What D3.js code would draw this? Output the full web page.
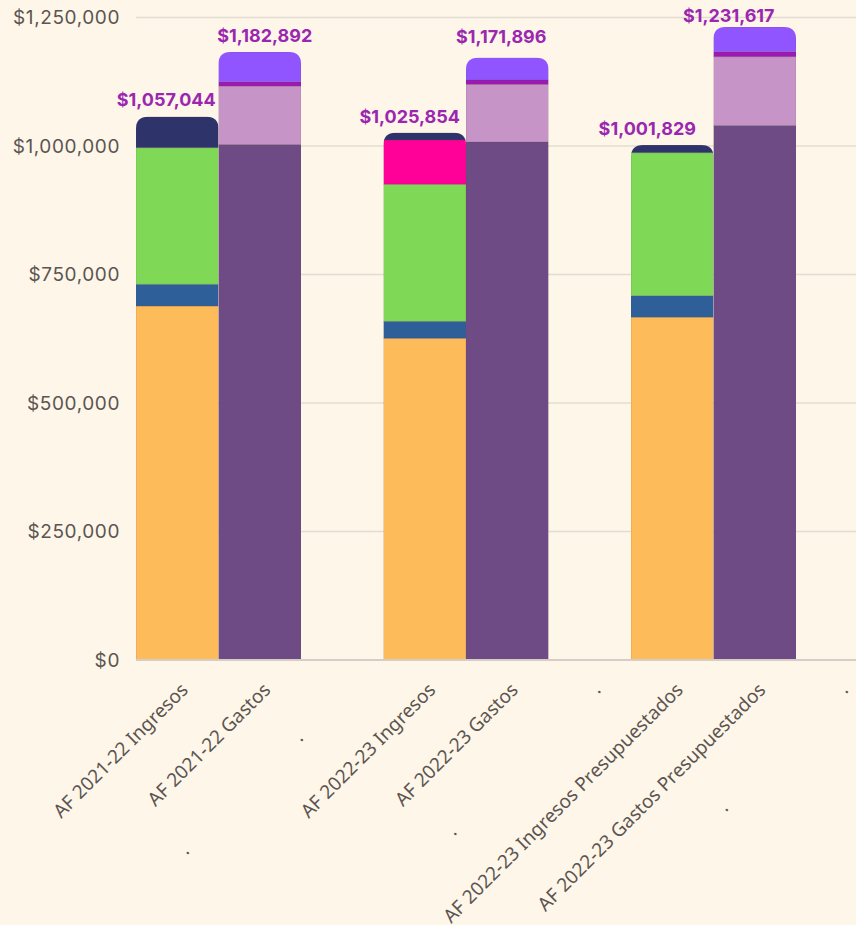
<!DOCTYPE html>
<html>
<head>
<meta charset="utf-8">
<script src="https://cdn.jsdelivr.net/npm/d3@7"></script>
<style>
  html, body { margin: 0; padding: 0; background: #FEF6E8; }
  svg { display: block; }
</style>
</head>
<body>
<svg id="chart" width="856" height="925"></svg>
<script>
// ---------- DATA ----------
const categories = [
  "AF 2021-22 Ingresos", "AF 2021-22 Gastos", ".",
  "AF 2022-23 Ingresos", "AF 2022-23 Gastos", ".",
  "AF 2022-23 Ingresos Presupuestados", "AF 2022-23 Gastos Presupuestados", "."
];
const seriesNames = ["ing1", "ing2", "ing3", "ing4", "ing5", "gas1", "gas2", "gas3", "gas4"];
const seriesColors = ["#FEBB5A", "#2F5F98", "#7FD957", "#FF0099", "#2E346A", "#6F4B85", "#C794C8", "#9C1AB3", "#9155FF"];
const ing1 = [688700, 0, 0, 625900, 0, 0, 667000, 0, 0];
const ing2 = [42300, 0, 0, 33100, 0, 0, 41800, 0, 0];
const ing3 = [265700, 0, 0, 266500, 0, 0, 278200, 0, 0];
const ing4 = [0, 0, 0, 86200, 0, 0, 0, 0, 0];
const ing5 = [60344, 0, 0, 14154, 0, 0, 14829, 0, 0];
const gas1 = [0, 1003000, 0, 0, 1008000, 0, 0, 1040000, 0];
const gas2 = [0, 113700, 0, 0, 112000, 0, 0, 133700, 0];
const gas3 = [0, 8300, 0, 0, 8400, 0, 0, 9800, 0];
const gas4 = [0, 57892, 0, 0, 43496, 0, 0, 48117, 0];
const totals = [1057044, 1182892, 0, 1025854, 1171896, 0, 1001829, 1231617, 0];
const yTicks = [0, 250000, 500000, 750000, 1000000, 1250000];

// ---------- LAYOUT ----------
const W = 856, H = 925;
const left = 136, baseY = 660, topY = 17.5;
const step = 82.5;
const svg = d3.select("#chart");

const x = d3.scaleBand().domain(d3.range(categories.length))
  .range([left, left + step * categories.length]).padding(0);
const y = d3.scaleLinear().domain([0, 1250000]).range([baseY, topY]);

const seriesData = [ing1, ing2, ing3, ing4, ing5, gas1, gas2, gas3, gas4];
const rows = categories.map((c, i) => {
  const r = { idx: i };
  seriesNames.forEach((s, k) => r[s] = seriesData[k][i]);
  return r;
});
const stack = d3.stack().keys(seriesNames)(rows);

// y axis labels
const yAxis = d3.axisLeft(y).tickValues(yTicks).tickFormat(d3.format("$,.0f"))
  .tickSize(0).tickPadding(16);
const gy = svg.append("g").attr("transform", `translate(${left},0)`).call(yAxis);
gy.select(".domain").remove();
gy.selectAll("text").attr("font-family", "Inter, 'Open Sans', sans-serif")
  .attr("font-size", 19).attr("letter-spacing", 0.6).attr("fill", "#5b5552").attr("x", -16);

// gridlines
svg.append("g").selectAll("line").data(yTicks.filter(d => d > 0)).join("line")
  .attr("x1", left).attr("x2", W).attr("y1", d => y(d)).attr("y2", d => y(d))
  .attr("stroke", "#E3DCD2").attr("stroke-width", 1.5);

// clip paths (rounded top)
const r = 12;
const defs = svg.append("defs");
categories.forEach((c, i) => {
  if (!totals[i]) return;
  const x0 = x(i), x1 = x(i) + x.bandwidth(), t = y(totals[i]), b = baseY;
  const rr = Math.min(r, (b - t));
  const p = `M${x0},${b} L${x0},${t + rr} Q${x0},${t} ${x0 + rr},${t} L${x1 - rr},${t} Q${x1},${t} ${x1},${t + rr} L${x1},${b} Z`;
  defs.append("clipPath").attr("id", "clip" + i).append("path").attr("d", p);
});

const barsG = svg.append("g");
categories.forEach((c, i) => {
  if (!totals[i]) return;
  const g = barsG.append("g").attr("clip-path", `url(#clip${i})`);
  stack.forEach((layer, k) => {
    const d = layer[i];
    if (d[1] - d[0] <= 0) return;
    g.append("rect")
      .attr("x", x(i)).attr("width", x.bandwidth())
      .attr("y", y(d[1])).attr("height", y(d[0]) - y(d[1]))
      .attr("fill", seriesColors[k])
      .attr("stroke", "rgba(90,70,70,0.25)").attr("stroke-width", 0.8);
  });
});

// baseline
svg.append("line").attr("x1", left).attr("x2", W).attr("y1", baseY).attr("y2", baseY)
  .attr("stroke", "#D6CEC6").attr("stroke-width", 2);

// total labels
const labelShift = [-11, 5, -15, -6, -25, -26, 0, 0, 0];
const labelGap = [11, 10, 10, 15, 10.5, 5, 0, 0, 0];
const lblIdx = [0, 1, 3, 4, 6, 7];
svg.append("g").selectAll("text").data(totals.map((t, i) => ({ t, i })).filter(d => d.t > 0)).join("text")
  .attr("x", d => x(d.i) + x.bandwidth() / 2 + labelShift[lblIdx.indexOf(d.i)])
  .attr("y", d => y(d.t) - labelGap[lblIdx.indexOf(d.i)])
  .attr("text-anchor", "middle")
  .attr("font-family", "Inter, sans-serif").attr("font-weight", 700).attr("font-size", 18)
  .attr("fill", "#9B27B0")
  .text(d => d3.format("$,.0f")(d.t));

// x labels
const xl = svg.append("g");
const xFont = "'Noto Sans', 'Open Sans', sans-serif";
categories.forEach((c, i) => {
  const cx = x(i) + x.bandwidth() / 2;
  xl.append("text")
    .attr("transform", `translate(${cx + 12},${baseY + 31}) rotate(-45)`)
    .attr("text-anchor", "end")
    .attr("font-family", xFont).attr("font-size", 19)
    .attr("fill", "#5b5552")
    .text(i === 2 ? "" : c);
});
// stray dots (extra wrapped label lines)
const strayDots = [[0, 11, 190], [2, -40, 77], [3, 31, 171], [6, 55, 147]];
strayDots.forEach(([i, dx, dy]) => {
  const cx = x(i) + x.bandwidth() / 2;
  xl.append("text")
    .attr("transform", `translate(${cx + dx + 2},${baseY + dy + 2}) rotate(-45)`)
    .attr("text-anchor", "end")
    .attr("font-family", xFont).attr("font-size", 19)
    .attr("fill", "#5b5552").text(".");
});
</script>
</body>
</html>
